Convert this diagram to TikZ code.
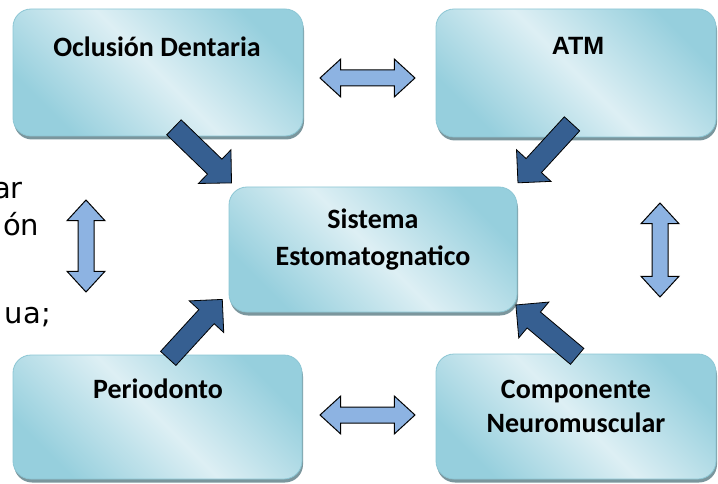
\documentclass[tikz,border=0pt]{standalone}
\usepackage{fontspec}
\setmainfont{Carlito}
\newfontfamily\atmfont{Liberation Sans}
\newfontfamily\restofont{DejaVu Sans}
\usetikzlibrary{shapes.arrows,shadows}

\definecolor{cajaborde}{HTML}{8CC6D4}
\definecolor{cajaoscuro}{HTML}{96CFDD}
\definecolor{cajaclaro}{HTML}{DDEFF4}
\definecolor{flechaoscura}{HTML}{365F91}
\definecolor{flechaclara}{HTML}{8DB3E2}

\tikzset{
  caja/.style={draw=cajaborde, line width=0.8pt, rounded corners=18pt, inner sep=0pt,
    top color=cajaoscuro, bottom color=cajaoscuro, middle color=cajaclaro, shading angle=-45,
    drop shadow={shadow xshift=1pt, shadow yshift=-3.5pt, fill=black!40!cajaoscuro, opacity=0.8}},
  texto/.style={font=\bfseries\fontsize{28}{37}\selectfont, align=center, inner sep=0pt, anchor=base},
  resto/.style={font=\restofont\fontsize{29}{35}\selectfont, inner sep=0pt, anchor=base east},
  flecha/.style={single arrow, draw=black, line width=0.8pt, fill=flechaoscura,
    single arrow head extend=13pt, single arrow tip angle=90, minimum height=80pt,
    inner xsep=0pt, inner ysep=10pt},
  doble/.style={double arrow, draw=black, line width=1pt, fill=flechaclara,
    double arrow head extend=11pt, double arrow tip angle=85,
    inner xsep=0pt, inner ysep=7.5pt}
}

\begin{document}
\begin{tikzpicture}[x=1pt, y=-1pt]
  \useasboundingbox (0,0) rectangle (718,484);
  \clip (0,0) rectangle (718,484);

  % texto cortado a la izquierda
  \node[resto] (r1) at (23,198) {ar};
  \node[resto] (r2) at (39.5,235) {ón};
  \node[resto] (r3) at (51,323) {ua;};

  % cajas
  \node[caja, minimum width=290pt, minimum height=127pt] (od) at (158,72.5) {};
  \node[caja, minimum width=280pt, minimum height=128pt] (atm) at (576,73) {};
  \node[caja, minimum width=288pt, minimum height=125pt] (ses) at (373,249.5) {};
  \node[caja, minimum width=289pt, minimum height=124pt] (per) at (157.5,417) {};
  \node[caja, minimum width=280pt, minimum height=125pt] (cnm) at (576,416.5) {};

  % textos (base = ultima linea)
  \node[texto] (odt) at (157,57) {Oclusión Dentaria};
  \node[texto, font=\atmfont\bfseries\fontsize{25}{30}\selectfont] (atmt) at (578,55) {ATM};
  \node[texto] (sest) at (373,265) {Sistema\\Estomatognatico};
  \node[texto] (pert) at (158,398) {Periodonto};
  \node[texto, font=\bfseries\fontsize{28}{34}\selectfont] (cnmt) at (576,432) {Componente\\Neuromuscular};

  % flechas hacia el centro
  \node[flecha, rotate=-44] (f1) at (199,151.5) {};
  \node[flecha, rotate=-132.5] (f2) at (548.5,149.5) {};
  \node[flecha, rotate=47.5] (f3) at (191.75,332.75) {};
  \node[flecha, rotate=140] (f4) at (550.5,334) {};

  % flechas dobles
  \node[doble, minimum height=95pt] (d1) at (367.5,78) {};
  \node[doble, minimum height=95pt] (d2) at (367.5,415) {};
  \node[doble, minimum height=92pt, rotate=90] (d3) at (86,246) {};
  \node[doble, minimum height=94pt, rotate=90] (d4) at (660,250) {};
\end{tikzpicture}
\end{document}
